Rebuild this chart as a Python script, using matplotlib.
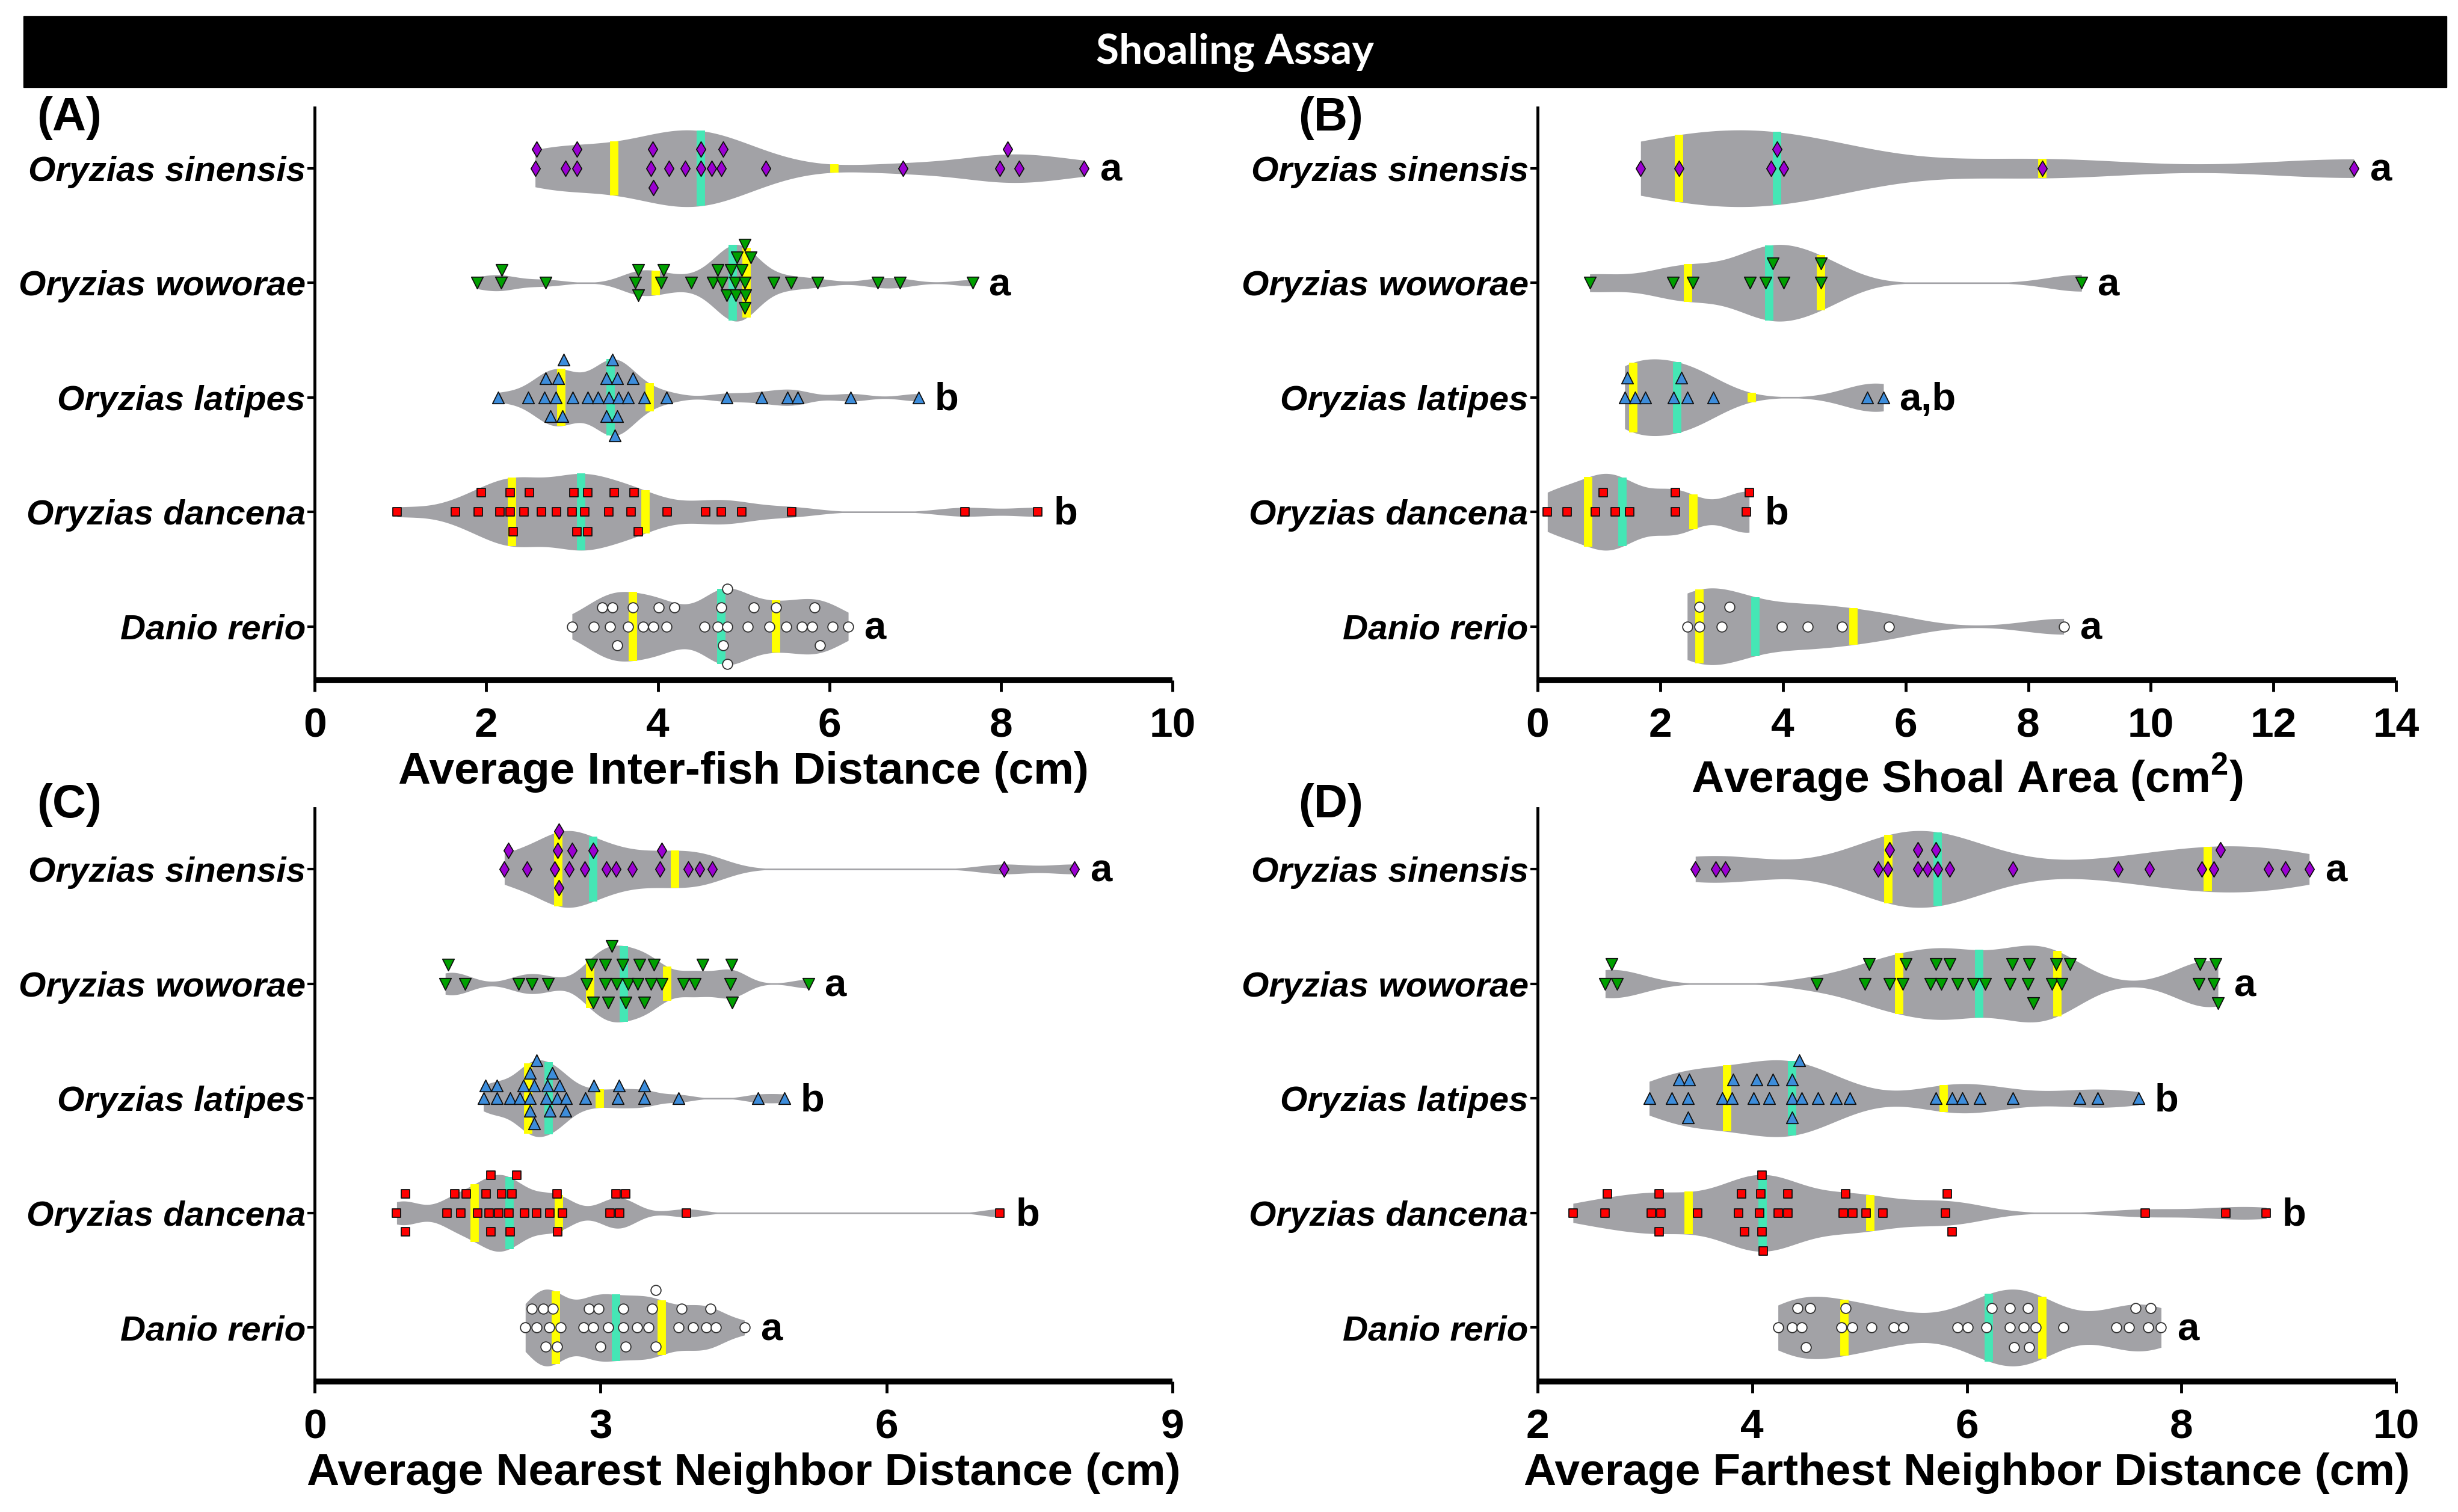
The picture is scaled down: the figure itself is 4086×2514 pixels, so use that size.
import numpy as np
import matplotlib
matplotlib.use("Agg")
import matplotlib.pyplot as plt
from matplotlib.patches import Rectangle

# ---------------- data ----------------
species = ["Oryzias sinensis", "Oryzias woworae", "Oryzias latipes",
           "Oryzias dancena", "Danio rerio"]

# (A) Average inter-fish distance (cm)
ifd_sinensis = [2.57, 2.59, 2.92, 3.06, 3.06, 3.92, 3.94, 3.95, 4.13, 4.32, 4.50,
                4.50, 4.63, 4.74, 4.76, 5.26, 6.86, 7.99, 8.08, 8.21, 8.97]
ifd_woworae = [1.89, 2.17, 2.18, 2.69, 3.74, 3.77, 3.77, 4.04, 4.07, 4.39, 4.64,
               4.70, 4.75, 4.80, 4.85, 4.90, 4.91, 4.92, 4.98, 5.01, 5.01, 5.01,
               5.02, 5.08, 5.35, 5.55, 5.86, 6.56, 6.82, 7.67]
ifd_latipes = [2.14, 2.49, 2.68, 2.69, 2.75, 2.81, 2.84, 2.89, 2.90, 3.01, 3.18,
               3.30, 3.40, 3.40, 3.43, 3.47, 3.50, 3.53, 3.53, 3.54, 3.65, 3.71,
               3.84, 4.10, 4.80, 5.21, 5.51, 5.63, 6.25, 7.04]
ifd_dancena = [0.96, 1.64, 1.91, 1.94, 2.16, 2.28, 2.28, 2.31, 2.44, 2.50, 2.64,
               2.82, 3.00, 3.02, 3.06, 3.15, 3.18, 3.18, 3.43, 3.49, 3.69, 3.72,
               3.77, 4.11, 4.56, 4.74, 4.98, 5.56, 7.58, 8.43]
ifd_rerio = [3.00, 3.25, 3.35, 3.44, 3.47, 3.53, 3.65, 3.71, 3.83, 3.95, 4.01,
             4.10, 4.19, 4.54, 4.70, 4.74, 4.76, 4.81, 4.81, 4.81, 5.05, 5.12,
             5.30, 5.38, 5.50, 5.68, 5.80, 5.83, 5.89, 6.04, 6.22]

# (B) Average shoal area (cm^2)
area_sinensis = [1.68, 2.31, 3.81, 3.90, 4.01, 8.23, 13.31]
area_woworae = [0.85, 2.21, 2.53, 3.46, 3.72, 3.84, 4.01, 4.62, 4.62, 8.87]
area_latipes = [1.42, 1.46, 1.59, 1.76, 2.22, 2.34, 2.44, 2.86, 5.38, 5.64]
area_dancena = [0.16, 0.48, 0.94, 1.07, 1.27, 1.50, 2.25, 2.25, 3.40, 3.45]
area_rerio = [2.44, 2.64, 2.64, 3.00, 3.13, 3.98, 4.40, 4.96, 5.73, 8.58]

# (C) Average nearest neighbor distance (cm)
nnd_sinensis = [1.99, 2.03, 2.23, 2.52, 2.55, 2.56, 2.56, 2.67, 2.70, 2.83, 2.92,
                3.06, 3.16, 3.33, 3.62, 3.64, 3.92, 4.04, 4.17, 7.23, 7.97]
nnd_woworae = [1.37, 1.40, 1.58, 2.14, 2.28, 2.45, 2.85, 2.90, 2.92, 3.05, 3.05,
               3.08, 3.12, 3.17, 3.23, 3.26, 3.29, 3.39, 3.41, 3.46, 3.53, 3.56,
               3.64, 3.87, 3.99, 4.07, 4.36, 4.37, 4.38, 5.18]
nnd_latipes = [1.77, 1.79, 1.91, 1.91, 2.05, 2.15, 2.19, 2.26, 2.26, 2.26, 2.30,
               2.30, 2.33, 2.43, 2.44, 2.47, 2.49, 2.54, 2.57, 2.63, 2.64, 2.84,
               2.93, 3.18, 3.19, 3.46, 3.46, 3.82, 4.65, 4.93]
nnd_dancena = [0.86, 0.95, 0.95, 1.39, 1.47, 1.53, 1.59, 1.71, 1.80, 1.83, 1.85,
               1.85, 1.93, 1.96, 2.04, 2.05, 2.07, 2.12, 2.20, 2.33, 2.47, 2.54,
               2.55, 2.60, 3.10, 3.16, 3.20, 3.26, 3.90, 7.19]
nnd_rerio = [2.21, 2.28, 2.33, 2.40, 2.42, 2.46, 2.50, 2.54, 2.58, 2.82, 2.88,
             2.92, 2.98, 3.00, 3.08, 3.24, 3.24, 3.26, 3.38, 3.50, 3.54, 3.58,
             3.58, 3.82, 3.85, 3.97, 4.11, 4.15, 4.21, 4.51]

# (D) Average farthest neighbor distance (cm)
fnd_sinensis = [3.47, 3.66, 3.75, 5.17, 5.26, 5.28, 5.54, 5.54, 5.63, 5.71, 5.73,
                5.84, 6.43, 7.41, 7.70, 8.19, 8.30, 8.36, 8.81, 8.97, 9.19]
fnd_woworae = [2.63, 2.69, 2.74, 4.60, 5.05, 5.09, 5.28, 5.40, 5.43, 5.66, 5.71,
               5.76, 5.84, 5.91, 6.06, 6.17, 6.40, 6.42, 6.57, 6.58, 6.62, 6.79,
               6.83, 6.88, 6.96, 8.16, 8.17, 8.30, 8.32, 8.34]
fnd_latipes = [3.04, 3.25, 3.32, 3.40, 3.40, 3.41, 3.72, 3.81, 3.82, 4.01, 4.04,
               4.16, 4.19, 4.37, 4.37, 4.37, 4.44, 4.46, 4.61, 4.78, 4.91, 5.71,
               5.86, 5.96, 6.12, 6.43, 7.05, 7.22, 7.60]
fnd_dancena = [2.33, 2.63, 2.65, 3.06, 3.13, 3.13, 3.15, 3.49, 3.87, 3.90, 3.93,
               4.07, 4.08, 4.09, 4.09, 4.10, 4.24, 4.33, 4.33, 4.85, 4.87, 4.94,
               5.06, 5.22, 5.80, 5.82, 5.86, 7.66, 8.41, 8.79]
fnd_rerio = [4.24, 4.37, 4.42, 4.46, 4.50, 4.54, 4.83, 4.87, 4.93, 5.11, 5.32,
             5.41, 5.91, 6.01, 6.18, 6.23, 6.40, 6.40, 6.44, 6.53, 6.57, 6.58,
             6.64, 6.90, 7.39, 7.51, 7.57, 7.69, 7.71, 7.81]

letters_A = ["a", "a", "b", "b", "a"]
letters_B = ["a", "a", "a,b", "b", "a"]
letters_C = ["a", "a", "b", "b", "a"]
letters_D = ["a", "a", "b", "b", "a"]

xlabel_A = "Average Inter-fish Distance (cm)"
xlabel_B = "Average Shoal Area (cm$^\\mathbf{2}$)"
xlabel_C = "Average Nearest Neighbor Distance (cm)"
xlabel_D = "Average Farthest Neighbor Distance (cm)"

xticks_A = [0, 2, 4, 6, 8, 10]
xticks_B = [0, 2, 4, 6, 8, 10, 12, 14]
xticks_C = [0, 3, 6, 9]
xticks_D = [2, 4, 6, 8, 10]

# ---------------- style ----------------
W, H, DPI = 4087, 2514, 100
FONT = "Liberation Sans"
VIOLIN = "#A2A2A6"
QCOL = "#FFFF00"
MCOL = "#45E6B5"
markers = ["d", "v", "^", "s", "o"]
faces = ["#9B00D2", "#00A000", "#3D8DDB", "#FF0000", "#FFFFFF"]
edges = ["#101010", "#101010", "#101010", "#101010", "#333333"]
msizes = [13.0, 14.0, 14.0, 10.5, 12.0]
ypos = [4, 3, 2, 1, 0]

plt.rcParams["font.family"] = [FONT, "DejaVu Sans"]
plt.rcParams["mathtext.fontset"] = "custom"
plt.rcParams["mathtext.bf"] = FONT + ":bold"
plt.rcParams["mathtext.rm"] = FONT

fig = plt.figure(figsize=(W / DPI, H / DPI), dpi=DPI)

# title bar
fig.patches.append(Rectangle((0.0095, 0.9423), 0.9856, 0.0470,
                             transform=fig.transFigure, color="black", zorder=0))
fig.text(0.5023, 0.9650, "Shoaling Assay", color="white", ha="center", va="center",
         fontsize=50, family=["Lato", "DejaVu Sans"], fontweight="bold")


def kde(vals, grid, bw):
    v = np.asarray(vals)[:, None]
    return np.exp(-0.5 * ((grid[None, :] - v) / bw) ** 2).sum(axis=0)


def swarm(vals, thr, dy, max_off):
    vals = np.asarray(vals)
    order = np.argsort(vals, kind="stable")
    rows = {}
    assign = np.zeros(len(vals), int)
    cand = [0]
    for j in range(1, 40):
        cand += [j, -j]
    for i in order:
        x = vals[i]
        for r in cand:
            if all(abs(x - xx) >= thr for xx in rows.get(r, [])):
                rows.setdefault(r, []).append(x)
                assign[i] = r
                break
    maxr = max(np.abs(assign).max(), 1)
    step = min(dy, max_off / maxr)
    return assign * step


def panel(rect, groups, letters, xlim, xticks, xlabel, tag, tagpos):
    ax = fig.add_axes(rect)
    ax.set_xlim(*xlim)
    ax.set_ylim(-0.47, 4.53)
    px_per_unit = rect[2] * W / (xlim[1] - xlim[0])
    half = 0.335
    for k, vals in enumerate(groups):
        vals = np.asarray(vals, float)
        y0 = ypos[k]
        n = len(vals)
        q1, med, q3 = np.percentile(vals, [25, 50, 75], method="weibull")
        sd = vals.std(ddof=1)
        spread = min(sd, (q3 - q1) / 1.34) if q3 > q1 else sd
        bw = 0.6 * 0.9 * spread * n ** (-0.2)
        grid = np.linspace(vals.min(), vals.max(), 600)
        d = kde(vals, grid, bw)
        w = np.maximum(d / d.max() * half, 0.007)
        ax.fill_between(grid, y0 - w, y0 + w, color=VIOLIN, lw=0, zorder=1)
        for q, c in ((q1, QCOL), (q3, QCOL), (med, MCOL)):
            wq = np.interp(q, grid, w)
            ax.plot([q, q], [y0 - wq, y0 + wq], color=c, lw=10,
                    solid_capstyle="butt", zorder=2)
        thr = 15.0 / px_per_unit
        offs = swarm(vals, thr, 0.17, 0.33)
        ax.scatter(vals, y0 + offs, marker=markers[k], s=msizes[k] ** 2,
                   facecolor=faces[k], edgecolor=edges[k], linewidth=1.3,
                   zorder=3, clip_on=False)
        ax.annotate(letters[k], xy=(vals.max(), y0), xytext=(19, -15),
                    textcoords="offset points", ha="left", va="baseline",
                    fontsize=47, fontweight="bold", annotation_clip=False)

    ax.set_yticks(ypos)
    ax.set_yticklabels(species, fontsize=42, fontweight="bold", fontstyle="italic")
    ax.set_xticks(xticks)
    ax.set_xticklabels([str(t) for t in xticks], fontsize=50, fontweight="bold")
    ax.tick_params(axis="x", length=14, width=3.5, pad=18, direction="out")
    ax.tick_params(axis="y", length=9, width=3, pad=2, direction="out")
    for s in ("top", "right"):
        ax.spines[s].set_visible(False)
    ax.spines["left"].set_linewidth(3.5)
    ax.spines["bottom"].set_linewidth(7)
    ax.spines["bottom"].set_capstyle("butt")
    ax.set_xlabel(xlabel, fontsize=54, fontweight="bold", labelpad=7)
    fig.text(tagpos[0], tagpos[1], tag, fontsize=56, fontweight="bold",
             ha="left", va="center")
    return ax


rect_A = [0.1280, 0.5501, 0.3489, 0.3787]
rect_B = [0.6254, 0.5501, 0.3492, 0.3787]
rect_C = [0.1280, 0.0863, 0.3489, 0.3791]
rect_D = [0.6254, 0.0863, 0.3492, 0.3791]

panel(rect_A, [ifd_sinensis, ifd_woworae, ifd_latipes, ifd_dancena, ifd_rerio],
      letters_A, (0, 10), xticks_A, xlabel_A, "(A)", (0.0150, 0.922))
panel(rect_B, [area_sinensis, area_woworae, area_latipes, area_dancena, area_rerio],
      letters_B, (0, 14), xticks_B, xlabel_B, "(B)", (0.5280, 0.922))
panel(rect_C, [nnd_sinensis, nnd_woworae, nnd_latipes, nnd_dancena, nnd_rerio],
      letters_C, (0, 9), xticks_C, xlabel_C, "(C)", (0.0150, 0.4675))
panel(rect_D, [fnd_sinensis, fnd_woworae, fnd_latipes, fnd_dancena, fnd_rerio],
      letters_D, (2, 10), xticks_D, xlabel_D, "(D)", (0.5280, 0.4675))

fig.savefig("out.png", dpi=DPI)
